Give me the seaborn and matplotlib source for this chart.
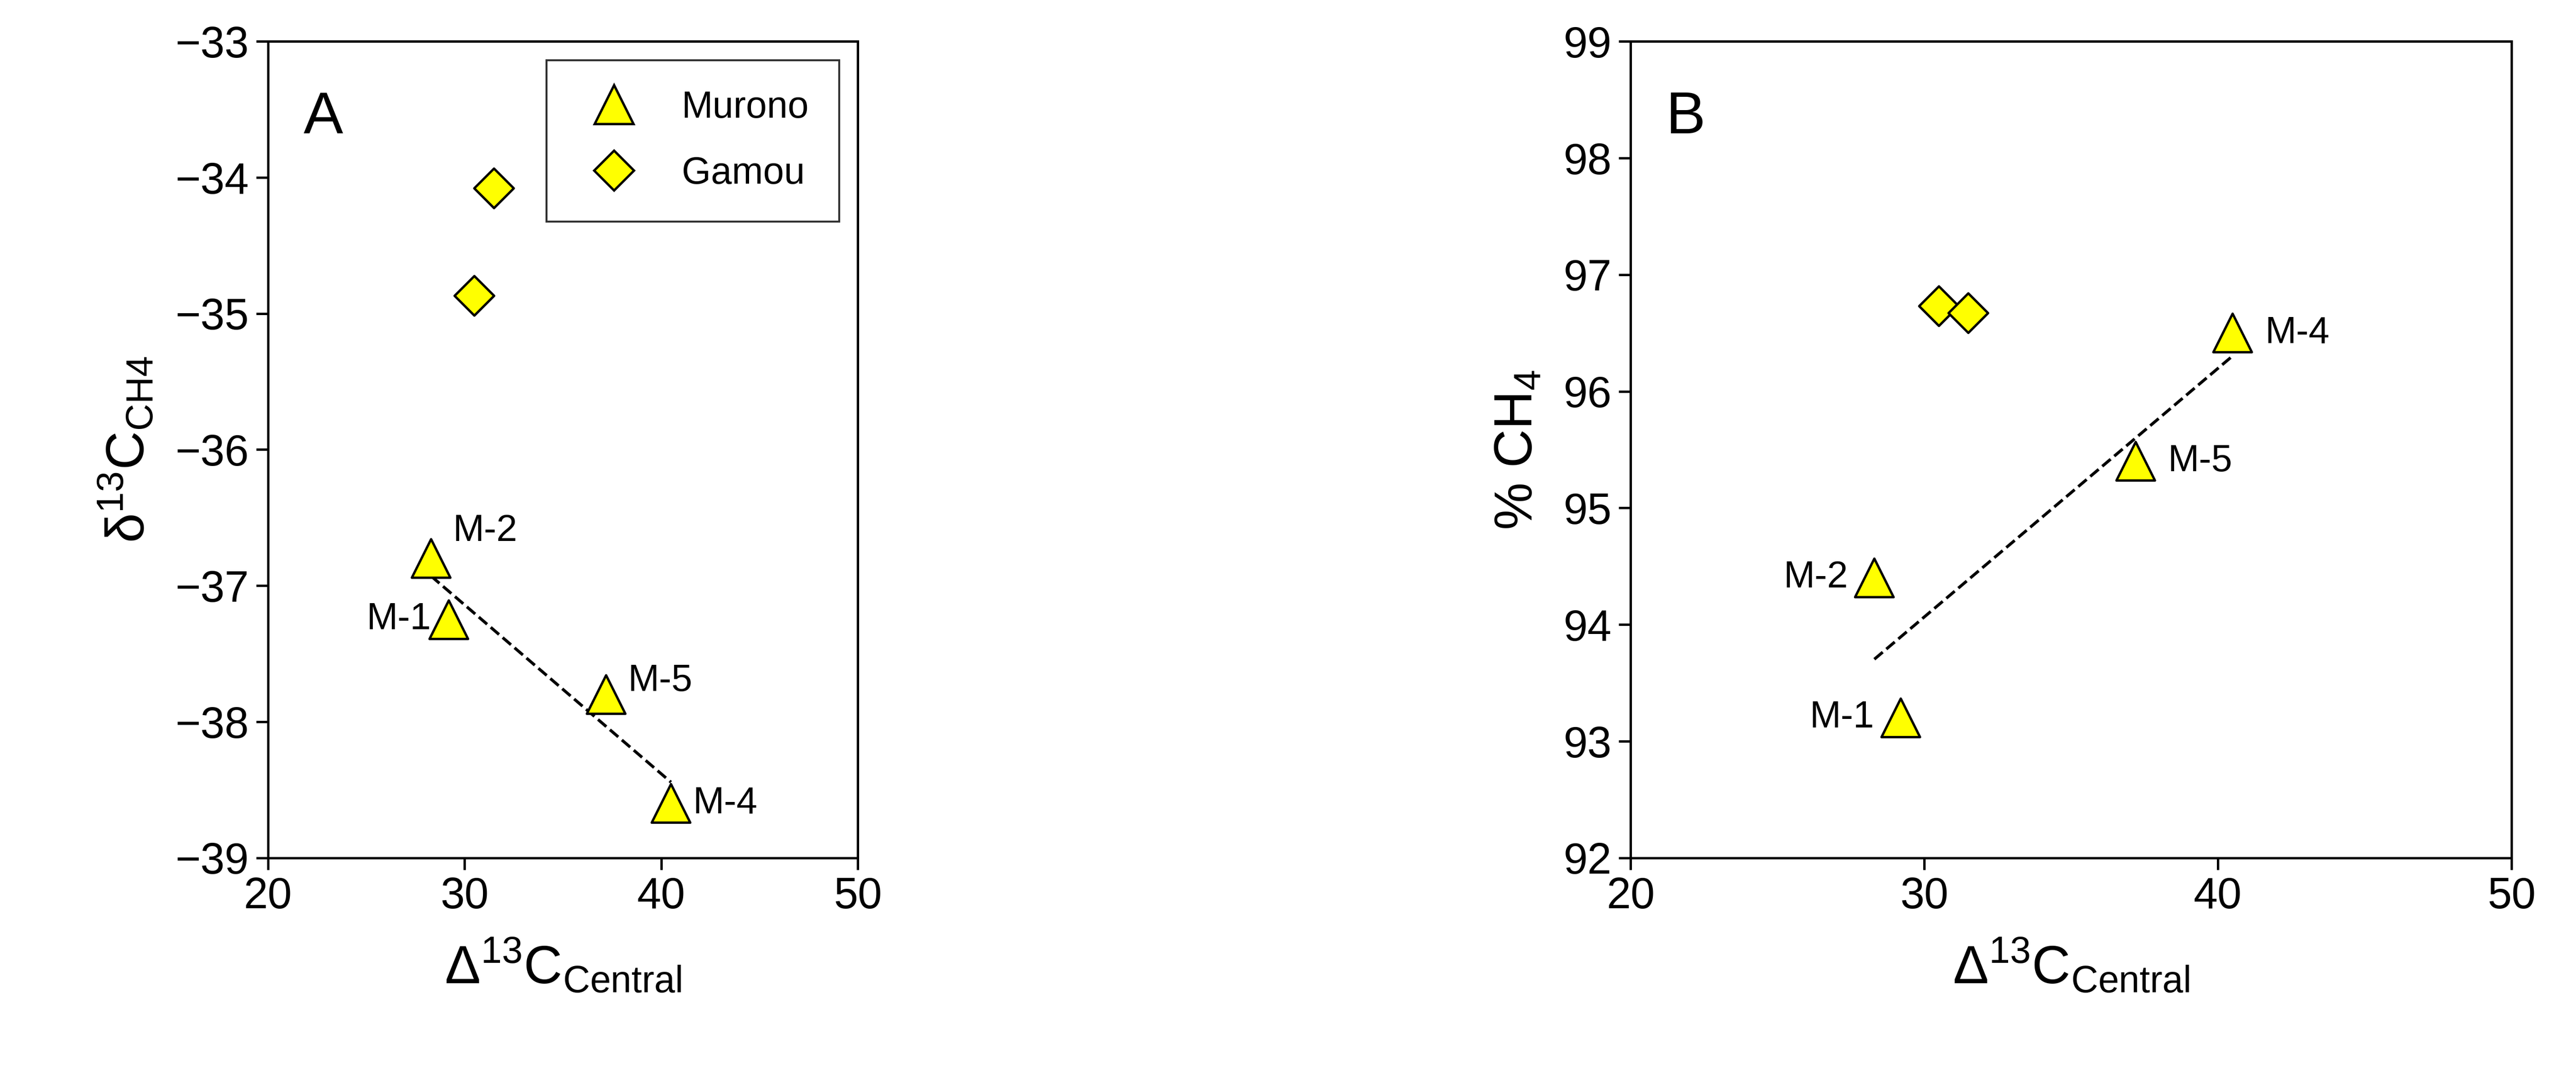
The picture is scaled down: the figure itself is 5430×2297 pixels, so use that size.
import numpy as np
import pandas as pd
import matplotlib.pyplot as plt
import seaborn as sns

sns.set_style("ticks")
plt.rcParams['font.family'] = ['Liberation Sans', 'DejaVu Sans']
plt.rcParams['text.color'] = 'black'
plt.rcParams['axes.labelcolor'] = 'black'
plt.rcParams['xtick.color'] = 'black'
plt.rcParams['ytick.color'] = 'black'
plt.rcParams['mathtext.fontset'] = 'custom'
plt.rcParams['mathtext.rm'] = 'Liberation Sans'

# Murono wells
murono_names = ["M-1", "M-2", "M-5", "M-4"]
murono_d13c_central = [29.2, 28.3, 37.2, 40.5]
murono_d13c_ch4 = [-37.25, -36.8, -37.8, -38.6]
murono_pct_ch4 = [93.2, 94.4, 95.4, 96.5]
# Gamou samples
gamou_d13c_central = [30.5, 31.5]
gamou_d13c_ch4 = [-34.87, -34.08]
gamou_pct_ch4 = [96.73, 96.67]

df = pd.DataFrame({
    "x": murono_d13c_central + gamou_d13c_central,
    "a": murono_d13c_ch4 + gamou_d13c_ch4,
    "b": murono_pct_ch4 + gamou_pct_ch4,
    "site": ["Murono"] * 4 + ["Gamou"] * 2,
})

fig = plt.figure(figsize=(18.1, 7.657), dpi=300)
axA = fig.add_axes([0.104, 0.213, 0.229, 0.749])
axB = fig.add_axes([0.633, 0.213, 0.342, 0.749])

label_off_A = {"M-1": (-0.9, 0, "right"), "M-2": (1.1, 0.2, "left"),
               "M-5": (1.1, 0.1, "left"), "M-4": (1.1, 0, "left")}
label_off_B = {"M-1": (-0.9, 0, "right"), "M-2": (-0.9, 0, "right"),
               "M-5": (1.1, 0, "left"), "M-4": (1.1, 0, "left")}

for ax, col, offs in [(axA, "a", label_off_A), (axB, "b", label_off_B)]:
    sns.scatterplot(data=df, x="x", y=col, style="site", markers={"Murono": "^", "Gamou": "D"},
                    color="#ffff00", edgecolor="black", linewidth=1.2,
                    size="site", sizes={"Murono": 380, "Gamou": 200},
                    ax=ax, legend=(ax is axA), zorder=3)
    mx = np.array(murono_d13c_central)
    my = np.array(df[col][:4])
    k, c = np.polyfit(mx, my, 1)
    xs = np.array([mx.min(), mx.max()])
    ax.plot(xs, k * xs + c, ls="--", color="black", lw=1.5, zorder=2)
    for n, xv, yv in zip(murono_names, mx, my):
        dx, dy, ha = offs[n]
        ax.text(xv + dx, yv + dy, n, ha=ha, va="center", fontsize=19)
    ax.set_xlim(20, 50)
    ax.set_xticks([20, 30, 40, 50])
    ax.tick_params(labelsize=22, direction="out", length=6, width=1.2)
    for s in ax.spines.values():
        s.set_visible(True)
        s.set_linewidth(1.2)
        s.set_color("black")
    ax.set_xlabel("\u0394$^{\\mathregular{13}}$C$_{\\mathregular{Central}}$", fontsize=27, labelpad=10)

axA.set_ylim(-39, -33)
axA.set_yticks(range(-39, -32))
axA.set_yticklabels([f"\u2212{abs(v)}" for v in range(-39, -32)])
axA.set_ylabel("\u03b4$^{\\mathregular{13}}$C$_{\\mathregular{CH4}}$", fontsize=27, labelpad=10)
axA.text(0.06, 0.94, "A", transform=axA.transAxes, fontsize=30, va="top")
h, l = axA.get_legend_handles_labels()
axA.legend(h, l, loc="upper right", fontsize=19, frameon=True, fancybox=False,
           edgecolor="black", borderpad=0.8, labelspacing=0.8, handletextpad=0.8)

axB.set_ylim(92, 99)
axB.set_yticks(range(92, 100))
axB.set_ylabel("% CH$_{\\mathregular{4}}$", fontsize=27, labelpad=10)
axB.text(0.04, 0.94, "B", transform=axB.transAxes, fontsize=30, va="top")

fig.savefig("out.png", dpi=300)
